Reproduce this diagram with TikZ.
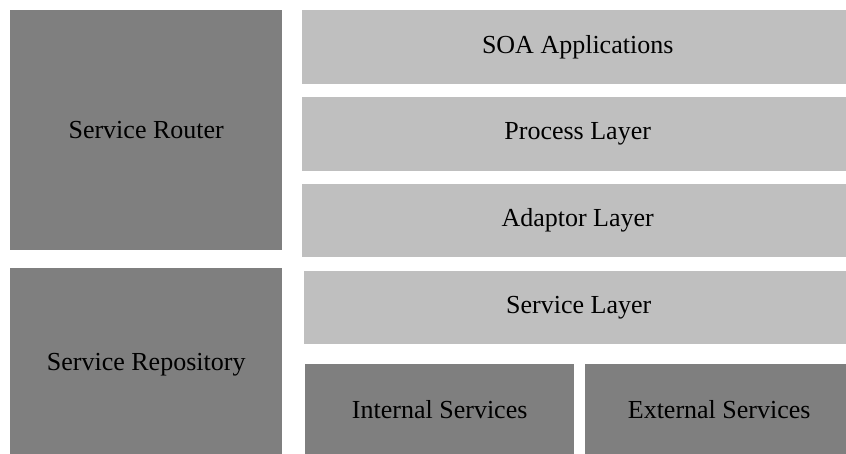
\documentclass[tikz,border=0pt]{standalone}
\usepackage{fontspec}
\setmainfont{Liberation Serif}
\usetikzlibrary{positioning}

\definecolor{darkgrey}{HTML}{7F7F7F}
\definecolor{lightgrey}{HTML}{BFBFBF}

\tikzset{
  block/.style={anchor=north west, inner sep=0pt, text=black,
    font=\fontsize{26}{30}\selectfont},
  darkblock/.style={block, fill=darkgrey},
  lightblock/.style={block, fill=lightgrey}
}

\begin{document}
\begin{tikzpicture}[x=1pt,y=-1pt]
\useasboundingbox (0,0) rectangle (846,454);
\clip (0,0) rectangle (846,454);
% left column
\node[darkblock, minimum width=272pt, minimum height=240pt] (router) at (10,10) {Service Router};
\node[darkblock, minimum width=272pt, minimum height=192pt] (repo) at (10,268) {Service Repository};
% layers (running off the right edge)
\node[lightblock, minimum width=551pt, minimum height=74pt] (soa) at (302,10) {SOA Applications};
\node[lightblock, minimum width=551pt, minimum height=74pt] (process) at (302,97) {Process Layer};
\node[lightblock, minimum width=551pt, minimum height=73pt] (adaptor) at (302,184) {Adaptor Layer};
\node[lightblock, minimum width=549pt, minimum height=73pt] (servicel) at (304,271) {Service Layer};
% services
\node[darkblock, minimum width=269pt, minimum height=90pt] (internal) at (305,364) {Internal Services};
\node[darkblock, minimum width=268pt, minimum height=90pt] (external) at (585,364) {External Services};
\end{tikzpicture}
\end{document}
